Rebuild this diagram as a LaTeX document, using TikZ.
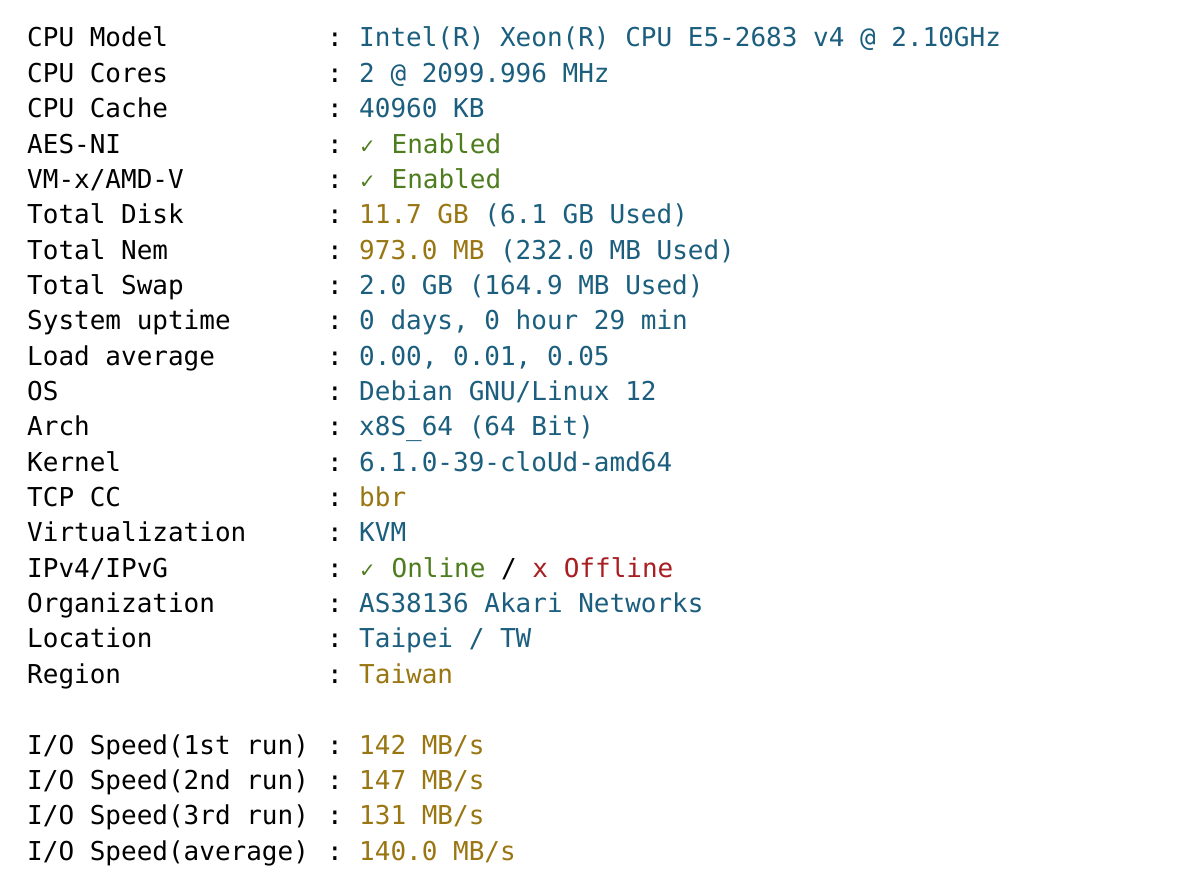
\documentclass[tikz,border=0pt]{standalone}
\usepackage{fontspec}
\setmonofont{DejaVu Sans Mono}
\newfontfamily\symfont{DejaVu Sans}
\definecolor{valblue}{HTML}{1B5E7E}
\definecolor{valgold}{HTML}{9A7612}
\definecolor{valgreen}{HTML}{4E7D1E}
\definecolor{valred}{HTML}{A81E22}
\newcommand{\ok}{{\symfont\fontsize{20}{20}\selectfont ✓}}
\tikzset{
  row/.style = {anchor = base west, inner sep = 0pt,
    font = \ttfamily\fontsize{26}{26}\selectfont},
  key/.style = {row, text = black},
  sep/.style = {row, text = black},
  val/.style = {row, text = valblue}
}
\begin{document}
\begin{tikzpicture}[x = 1pt, y = -1pt]
        % page
        \fill[white] (0,0) rectangle (1184,896);

        % draws the keys and colons
        \foreach \k [count = \i] in {CPU Model, CPU Cores, CPU Cache, AES-NI,
            VM-x/AMD-V, Total Disk, Total Nem, Total Swap, System uptime,
            Load average, OS, Arch, Kernel, TCP CC, Virtualization, IPv4/IPvG,
            Organization, Location, Region}
        {
          \node[key] (key\i) at (27, 47 + 35.35*\i - 35.35) {\k};
          \node[sep] (sep\i) at (327, 47 + 35.35*\i - 35.35) {:};
        }
        \foreach \k [count = \i from 20] in {I/O Speed(1st run), I/O Speed(2nd run),
            I/O Speed(3rd run), I/O Speed(average)}
        {
          \node[key] (key\i) at (27, 47 + 35.35*\i) {\k};
          \node[sep] (sep\i) at (327, 47 + 35.35*\i) {:};
        }

        % draws the values
        \foreach \v [count = \i] in {Intel(R) Xeon(R) CPU E5-2683 v4 @ 2.10GHz,
            2 @ 2099.996 MHz, 40960 KB}
          \node[val] (val\i) at (359, 47 + 35.35*\i - 35.35) {\v};
        \node[val, text = valgreen] (val4) at (359, 47 + 35.35*3) {\ok{} Enabled};
        \node[val, text = valgreen] (val5) at (359, 47 + 35.35*4) {\ok{} Enabled};
        \node[val] (val6) at (359, 47 + 35.35*5)
          {\textcolor{valgold}{11.7 GB} (6.1 GB Used)};
        \node[val] (val7) at (359, 47 + 35.35*6)
          {\textcolor{valgold}{973.0 MB} (232.0 MB Used)};
        \foreach \v [count = \i from 8] in {2.0 GB (164.9 MB Used),
            {0 days, 0 hour 29 min}, {0.00, 0.01, 0.05}, Debian GNU/Linux 12,
            x8S\_64 (64 Bit), 6.1.0-39-cloUd-amd64}
          \node[val] (val\i) at (359, 47 + 35.35*\i - 35.35) {\v};
        \node[val, text = valgold] (val14) at (359, 47 + 35.35*13) {bbr};
        \node[val] (val15) at (359, 47 + 35.35*14) {KVM};
        \node[val, text = valgreen] (val16) at (359, 47 + 35.35*15)
          {\ok{} Online \textcolor{black}{/} \textcolor{valred}{x Offline}};
        \node[val] (val17) at (359, 47 + 35.35*16) {AS38136 Akari Networks};
        \node[val] (val18) at (359, 47 + 35.35*17) {Taipei / TW};
        \node[val, text = valgold] (val19) at (359, 47 + 35.35*18) {Taiwan};

        % draws the disk speeds
        \foreach \v [count = \i from 20] in {142 MB/s, 147 MB/s, 131 MB/s, 140.0 MB/s}
          \node[val, text = valgold] (val\i) at (359, 47 + 35.35*\i) {\v};
      \end{tikzpicture}
\end{document}
